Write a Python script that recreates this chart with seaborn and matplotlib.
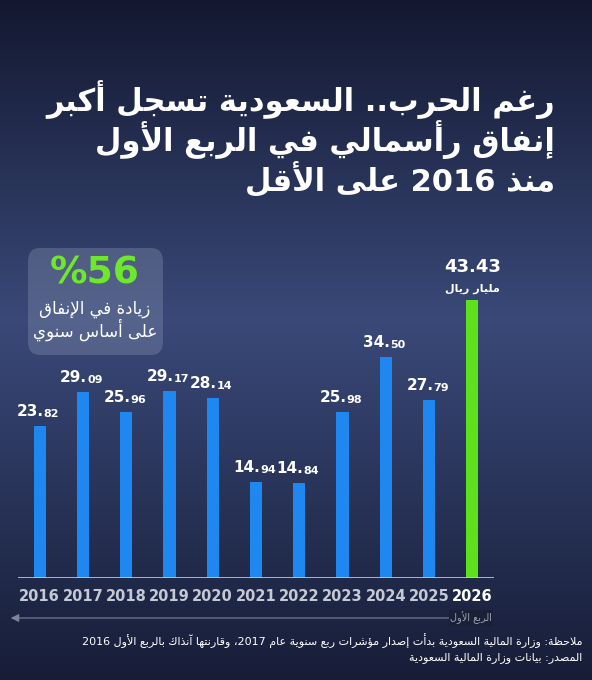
import numpy as np
import pandas as pd
import seaborn as sns
import matplotlib.pyplot as plt
from matplotlib.patches import FancyBboxPatch

years = ["2016", "2017", "2018", "2019", "2020", "2021", "2022", "2023", "2024", "2025", "2026"]
values = [23.82, 29.09, 25.96, 29.17, 28.14, 14.94, 14.84, 25.98, 34.50, 27.79, 43.43]

title_lines = ["رغم الحرب.. السعودية تسجل أكبر", "إنفاق رأسمالي في الربع الأول", "منذ 2016 على الأقل"]
note_lines = ["ملاحظة: وزارة المالية السعودية بدأت إصدار مؤشرات ربع سنوية عام 2017، وقارنتها آنذاك بالربع الأول 2016",
              "المصدر: بيانات وزارة المالية السعودية"]

# --- minimal Arabic shaping + visual reordering (matplotlib has none) ---
_D = {'ئ': 0xFE89, 'ب': 0xFE8F, 'ت': 0xFE95, 'ث': 0xFE99, 'ج': 0xFE9D, 'ح': 0xFEA1, 'خ': 0xFEA5,
      'س': 0xFEB1, 'ش': 0xFEB5, 'ص': 0xFEB9, 'ض': 0xFEBD, 'ط': 0xFEC1, 'ظ': 0xFEC5, 'ع': 0xFEC9,
      'غ': 0xFECD, 'ف': 0xFED1, 'ق': 0xFED5, 'ك': 0xFED9, 'ل': 0xFEDD, 'م': 0xFEE1, 'ن': 0xFEE5,
      'ه': 0xFEE9, 'ي': 0xFEF1}
_R = {'آ': 0xFE81, 'أ': 0xFE83, 'ؤ': 0xFE85, 'إ': 0xFE87, 'ا': 0xFE8D, 'ة': 0xFE93, 'د': 0xFEA9,
      'ذ': 0xFEAB, 'ر': 0xFEAD, 'ز': 0xFEAF, 'و': 0xFEED, 'ى': 0xFEEF}
_LA = {'آ': 0xFEF5, 'أ': 0xFEF7, 'إ': 0xFEF9, 'ا': 0xFEFB}


def shape(s):
    out = []
    i = 0
    n = len(s)
    while i < n:
        c = s[i]
        prev = s[i - 1] if i > 0 else ''
        pj = prev in _D
        if c == 'ل' and i + 1 < n and s[i + 1] in _LA:
            out.append(chr(_LA[s[i + 1]] + (1 if pj else 0)))
            i += 2
            continue
        nxt = s[i + 1] if i + 1 < n else ''
        nj = nxt in _D or nxt in _R
        if c in _D:
            off = 3 if (pj and nj) else 1 if pj else 2 if nj else 0
            out.append(chr(_D[c] + off))
        elif c in _R:
            out.append(chr(_R[c] + (1 if pj else 0)))
        else:
            out.append(c)
        i += 1
    return ''.join(out)


def ar(s):
    s = shape(s)
    runs, cur, cur_ltr = [], '', None
    for ch in s:
        ltr = ch.isdigit() or ch == '.'
        if cur and ltr != cur_ltr:
            runs.append((cur, cur_ltr))
            cur = ''
        cur += ch
        cur_ltr = ltr
    if cur:
        runs.append((cur, cur_ltr))
    return ''.join(r if l else r[::-1] for r, l in reversed(runs))


sns.set_theme(style="dark")
plt.rcParams['font.family'] = ['DejaVu Sans']

W, H = 592, 680
fig = plt.figure(figsize=(W / 100, H / 100), dpi=100)

bg = fig.add_axes([0, 0, 1, 1])
grad = np.concatenate([np.linspace(0.10, 0.30, 320), np.linspace(0.30, 0.12, 360)])
cols = np.stack([grad * 0.75, grad * 0.95, grad * 1.4 + 0.05], axis=1)
bg.imshow(np.clip(cols, 0, 1)[:, None, :], aspect='auto', extent=[0, 1, 0, 1])
bg.axis('off')


def fy(py):
    return 1 - py / H


ax = fig.add_axes([18 / W, 102 / H, 476 / W, 320 / H])
ax.patch.set_alpha(0)
df = pd.DataFrame({"year": years, "value": values})
palette = ["#1e88f0"] * 10 + ["#5fe01c"]
sns.barplot(data=df, x="year", y="value", hue="year", palette=palette, legend=False,
            width=0.28, saturation=1, linewidth=0, ax=ax)
ax.set_ylim(0, 50)
ax.set_xlim(-0.5, 10.5)
ax.set_xlabel("")
ax.set_ylabel("")
ax.set_yticks([])
ax.grid(False)
for s in ax.spines.values():
    s.set_visible(False)
ax.axhline(0, color="#c8cdd8", lw=1.2)
ax.tick_params(axis='x', length=0, pad=8)
ax.set_xticks(range(len(years)))
ax.set_xticklabels(years, fontsize=10.5, fontweight='bold')
for i, t in enumerate(ax.get_xticklabels()):
    t.set_color("white" if i == len(years) - 1 else "#c4c9d4")

for i, v in enumerate(values[:-1]):
    ip, dp = f"{v:.2f}".split(".")
    ax.annotate(ip + ".", (i, v), xytext=(3, 5), textcoords="offset points", ha="right",
                va="bottom", color="white", fontsize=11, fontweight="bold")
    ax.annotate(dp, (i, v), xytext=(3, 5), textcoords="offset points", ha="left",
                va="bottom", color="white", fontsize=8, fontweight="bold")
ax.annotate(f"{values[-1]:.2f}", (10, values[-1]), xytext=(0, 17), textcoords="offset points",
            ha="center", va="bottom", color="white", fontsize=13, fontweight="bold")
ax.annotate(ar("مليار ريال"), (10, values[-1]), xytext=(0, 4), textcoords="offset points",
            ha="center", va="bottom", color="white", fontsize=8, fontweight="bold")

# quarter arrow
bg.annotate("", xy=(8 / W, fy(618)), xytext=(495 / W, fy(618)),
            arrowprops=dict(arrowstyle="-|>", color="#7c8599", lw=0.8))
fig.text(492 / W, fy(618), ar("الربع الأول"), ha="right", va="center", color="#9aa2b4", fontsize=7,
         bbox=dict(fc="#1a2035", ec="none", pad=1))

for k, line in enumerate(title_lines):
    fig.text(555 / W, fy(100 + 40 * k), ar(line), ha="right", va="center", color="white",
             fontsize=22, fontweight="bold")

box = FancyBboxPatch((28 / W, fy(355)), 135 / W, 107 / H, boxstyle="round,pad=0,rounding_size=0.02",
                     transform=fig.transFigure, fc="#8a97b5", ec="none", alpha=0.35)
fig.patches.append(box)
fig.text(95 / W, fy(274), "%56", ha="center", va="center", color="#6ee82b", fontsize=27, fontweight="bold")
fig.text(95 / W, fy(309), ar("زيادة في الإنفاق"), ha="center", va="center", color="white", fontsize=12)
fig.text(95 / W, fy(330), ar("على أساس سنوي"), ha="center", va="center", color="white", fontsize=12)

for k, line in enumerate(note_lines):
    fig.text(582 / W, fy(641 + 17 * k), ar(line), ha="right", va="center", color="white", fontsize=8)

fig.savefig("out.png", dpi=100)
